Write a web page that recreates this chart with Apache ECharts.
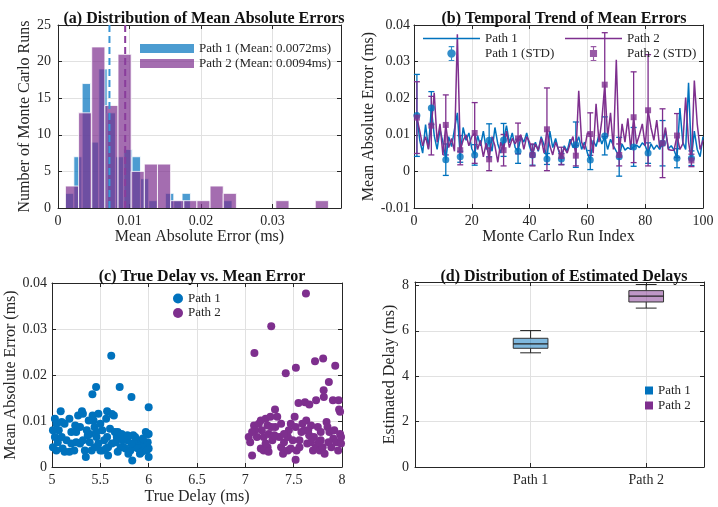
<!DOCTYPE html>
<html>
<head>
<meta charset="utf-8">
<script src="https://cdn.jsdelivr.net/npm/echarts@6/dist/echarts.min.js"></script>
<style>
html,body{margin:0;padding:0;background:#fff;}
#chart{width:718px;height:507px;}
</style>
</head>
<body>
<div id="chart"></div>
<script>
// (a) histogram bins and counts
const edges1 = [0.00105, 0.00222, 0.00338, 0.00455, 0.00571, 0.00688, 0.00804, 0.00921, 0.01037, 0.01154, 0.0127,
  0.01387, 0.01503, 0.0162, 0.01736, 0.01853, 0.01969, 0.02086, 0.02202, 0.02319, 0.02435]
const counts1 = [2, 7, 17, 9, 19, 13, 7, 8, 7, 4, 1, 0, 2, 1, 2, 0, 0, 0, 0, 1]
const edges2 = [0.00104, 0.00288, 0.00472, 0.00656, 0.0084, 0.01024, 0.01208, 0.01392, 0.01576, 0.0176, 0.01944,
  0.02128, 0.02312, 0.02496, 0.0268, 0.02864, 0.03048, 0.03232, 0.03416, 0.036, 0.03784]
const counts2 = [3, 13, 22, 14, 21, 5, 6, 6, 1, 1, 1, 3, 2, 0, 0, 0, 1, 0, 0, 1]
const mean1 = 0.0072
const mean2 = 0.0094

// (b) mean error per monte carlo run (run 1..100)
const runErr1 = [
  0.0153, 0.0085, 0.0050, 0.0128, 0.0062, 0.0173, 0.0098, 0.0060, 0.0115, 0.0080,
  0.0032, 0.0095, 0.0068, 0.0115, 0.0160, 0.0040, 0.0120, 0.0085, 0.0105, 0.0062,
  0.0045, 0.0098, 0.0070, 0.0110, 0.0060, 0.0085, 0.0055, 0.0120, 0.0075, 0.0050,
  0.0086, 0.0125, 0.0078, 0.0105, 0.0065, 0.0055, 0.0095, 0.0080, 0.0105, 0.0068,
  0.0045, 0.0080, 0.0055, 0.0095, 0.0072, 0.0034, 0.0110, 0.0065, 0.0090, 0.0058,
  0.0034, 0.0070, 0.0055, 0.0088, 0.0065, 0.0073, 0.0095, 0.0060, 0.0080, 0.0050,
  0.0031, 0.0085, 0.0068, 0.0100, 0.0075, 0.0097, 0.0060, 0.0088, 0.0070, 0.0055,
  0.0040, 0.0075, 0.0058, 0.0065, 0.0060, 0.0067, 0.0072, 0.0065, 0.0078, 0.0070,
  0.0050, 0.0075, 0.0060, 0.0072, 0.0060, 0.0077, 0.0110, 0.0062, 0.0070, 0.0058,
  0.0036, 0.0173, 0.0080, 0.0060, 0.0242, 0.0036, 0.0110, 0.0060, 0.0040, 0.0095]
const runErr2 = [
  0.0147, 0.0110, 0.0070, 0.0095, 0.0060, 0.0125, 0.0215, 0.0080, 0.0130, 0.0045,
  0.0127, 0.0065, 0.0090, 0.0055, 0.0375, 0.0058, 0.0085, 0.0100, 0.0070, 0.0095,
  0.0105, 0.0060, 0.0085, 0.0040, 0.0078, 0.0033, 0.0095, 0.0070, 0.0025, 0.0080,
  0.0058, 0.0110, 0.0065, 0.0090, 0.0075, 0.0090, 0.0100, 0.0060, 0.0095, 0.0080,
  0.0045, 0.0075, 0.0058, 0.0090, 0.0050, 0.0115, 0.0070, 0.0045, 0.0080, 0.0060,
  0.0042, 0.0065, 0.0050, 0.0075, 0.0095, 0.0043, 0.0220, 0.0080, 0.0060, 0.0105,
  0.0102, 0.0050, 0.0185, 0.0080, 0.0140, 0.0237, 0.0095, 0.0160, 0.0060, 0.0305,
  0.0045, 0.0130, 0.0080, 0.0145, 0.0060, 0.0148, 0.0075, 0.0100, 0.0130, 0.0070,
  0.0167, 0.0120, 0.0085, 0.0140, 0.0065, 0.0077, 0.0120, 0.0060, 0.0058, 0.0058,
  0.0098, 0.0060, 0.0075, 0.0202, 0.0080, 0.0030, 0.0248, 0.0130, 0.0060, 0.0085]
// runs that carry an error bar, and the std of each
const stdRuns = [1, 6, 11, 16, 21, 26, 31, 36, 41, 46, 51, 56, 61, 66, 71, 76, 81, 86, 91, 96]
const std1 = [0.0112, 0.0045, 0.0043, 0.0015, 0.0028, 0.0045, 0.0045, 0.0033, 0.0028, 0.0015,
  0.0015, 0.0062, 0.0026, 0.0052, 0.0053, 0.0053, 0.0028, 0.0062, 0.0026, 0.0020]
const std2 = [0.0098, 0.0080, 0.0082, 0.0040, 0.0083, 0.0031, 0.0043, 0.0042, 0.0030, 0.0113,
  0.0024, 0.0028, 0.0058, 0.0142, 0.0030, 0.0124, 0.0152, 0.0094, 0.0060, 0.0017]

// (c) true delay vs mean error
const scatter1 = [[5.613,0.0242],[5.456,0.0174],[5.418,0.0158],[5.70,0.0174],[5.822,0.0152],[6.0,0.013],
  [5.03,0.0105],[5.09,0.0121],[5.045,0.0094],[5.07,0.008],[5.03,0.0065],[5.06,0.0054],[5.045,0.0036],
  [5.13,0.0033],[5.18,0.0033],[5.18,0.0105],[5.24,0.009],[5.25,0.0076],[5.27,0.0112],[5.31,0.0121],
  [5.32,0.0116],[5.25,0.0054],[5.29,0.0051],[5.34,0.0036],[5.35,0.0022],[5.39,0.0054],[5.39,0.0072],
  [5.43,0.0101],[5.44,0.0087],[5.42,0.0112],[5.48,0.0116],[5.50,0.0094],[5.46,0.0065],[5.44,0.0043],
  [5.50,0.0036],[5.52,0.008],[5.57,0.0121],[5.56,0.0105],[5.57,0.0065],[5.58,0.0043],[5.58,0.0025],
  [5.64,0.0112],[5.65,0.0076],[5.67,0.0065],[5.68,0.0076],[5.72,0.0072],[5.74,0.0043],[5.78,0.0058],
  [5.79,0.0029],[5.83,0.0014],[5.84,0.0069],[5.86,0.0043],[5.88,0.0058],[5.91,0.0029],[5.92,0.0054],
  [5.95,0.0043],[5.97,0.0076],[5.99,0.0072],[6.0,0.0022],[5.99,0.0054],[6.0,0.004],[6.0,0.0072],
  [5.37,0.0069],[5.13,0.0094],[5.15,0.0058],[5.2,0.0051],[5.32,0.0058],[5.38,0.0101],[5.52,0.0036],
  [5.62,0.0051],[5.71,0.0043],[5.76,0.004],[5.81,0.0036],[5.85,0.0051],[5.89,0.004],[5.93,0.0033],
  [5.01,0.0043],[5.1,0.0065],[5.2,0.0076],[5.29,0.0087],[5.36,0.008],[5.41,0.0036],[5.54,0.0058],
  [5.6,0.0083],[5.66,0.0054],[5.73,0.0058],[5.82,0.0051],[5.94,0.0062],[5.01,0.008],[5.11,0.004],
  [5.23,0.0036],[5.46,0.0076],[5.48,0.0051],[5.56,0.004],[5.68,0.0033],[5.78,0.0069],[5.86,0.0065],
  [5.98,0.0036],[5.62,0.0115],[5.1,0.0098]]
const scatter2 = [[7.627,0.0377],[7.268,0.0306],[7.094,0.0248],[7.418,0.0204],[7.523,0.0216],[7.721,0.023],
  [7.805,0.0236],[7.93,0.022],[7.864,0.0185],[7.81,0.0167],[7.55,0.0139],[7.617,0.0141],[7.662,0.0136],
  [7.732,0.0145],[7.812,0.0152],[7.906,0.0145],[7.965,0.0145],[7.97,0.0125],[7.98,0.012],[7.307,0.0125],
  [7.035,0.0065],[7.05,0.0054],[7.07,0.0025],[7.09,0.009],[7.14,0.0094],[7.17,0.008],[7.19,0.0065],
  [7.21,0.0105],[7.23,0.009],[7.24,0.0072],[7.26,0.0109],[7.28,0.0058],[7.16,0.004],[7.23,0.0043],
  [7.31,0.0087],[7.35,0.0065],[7.37,0.0043],[7.39,0.0029],[7.40,0.0054],[7.44,0.0065],[7.45,0.008],
  [7.47,0.0094],[7.51,0.0109],[7.52,0.0087],[7.53,0.0036],[7.56,0.0058],[7.52,0.0016],[7.59,0.0094],
  [7.61,0.008],[7.63,0.0101],[7.64,0.0051],[7.68,0.009],[7.70,0.0036],[7.73,0.0043],[7.75,0.0087],
  [7.77,0.0036],[7.78,0.0058],[7.80,0.0043],[7.82,0.0029],[7.84,0.0098],[7.85,0.0087],[7.87,0.0076],
  [7.91,0.0062],[7.92,0.008],[7.94,0.0054],[7.98,0.0072],[7.99,0.0051],[7.99,0.0065],[7.10,0.008],
  [7.12,0.0065],[7.19,0.0036],[7.27,0.0087],[7.30,0.0069],[7.33,0.0109],[7.44,0.0036],[7.49,0.0058],
  [7.58,0.0076],[7.66,0.0069],[7.71,0.0065],[7.76,0.0054],[7.89,0.0043],[7.96,0.0036],[7.07,0.0076],
  [7.16,0.0101],[7.21,0.0051],[7.37,0.0094],[7.47,0.004],[7.56,0.0043],[7.65,0.008],[7.78,0.0076],
  [7.86,0.0054],[7.24,0.0033],[7.40,0.0072],[7.68,0.0054]]

// (d) box stats: [min, q1, median, q3, max]
const boxNames = ['Path 1', 'Path 2']
const boxStats1 = [5.03, 5.23, 5.42, 5.67, 6.01]
const boxStats2 = [7.0, 7.27, 7.53, 7.77, 8.04]

const c1 = '#0072BD'
const c2 = '#7E2F8E'
const font = 'Liberation Serif'
const ink = '#262626'

let chart
let option = {}

// 坐标轴
function mainAxis(grid, pos, min, max, interval, name, nameGap, extra){
  return Object.assign({
    type:'value', gridIndex:grid, position:pos, min, max, interval,
    name, nameLocation:'middle', nameGap,
    nameTextStyle:{fontFamily:font, fontSize:16, color:ink},
    axisLine:{show:true, onZero:false, lineStyle:{color:ink, width:1}},
    axisTick:{show:true, inside:true, length:4, lineStyle:{color:ink}},
    axisLabel:{fontFamily:font, fontSize:14, color:ink, margin:6},
    splitLine:{show:true, lineStyle:{color:'#e1e1e1', width:1}}
  }, extra || {})
}
function frameAxis(grid, pos, min, max, interval){
  return {
    type:'value', gridIndex:grid, position:pos, min, max, interval,
    axisLine:{show:true, onZero:false, lineStyle:{color:ink, width:1}},
    axisTick:{show:true, inside:true, length:4, lineStyle:{color:ink}},
    axisLabel:{show:false}, splitLine:{show:false}
  }
}

function histItem(fill){
  return function(params, api){
    if (api.value(2) === 0) return null
    const p0 = api.coord([api.value(0), api.value(2)])
    const p1 = api.coord([api.value(1), 0])
    return {type:'group', children:[
      {type:'rect', shape:{x:p0[0], y:p0[1], width:p1[0]-p0[0], height:p1[1]-p0[1]}, style:{fill}},
      {type:'polyline', shape:{points:[[p0[0],p1[1]],[p0[0],p0[1]],[p1[0],p0[1]],[p1[0],p1[1]]]},
        style:{stroke:'#fff', lineWidth:0.8, fill:null}}
    ]}
  }
}

function errItem(color){
  return function(params, api){
    const x = api.value(0), m = api.value(1), s = api.value(2)
    const t = api.coord([x, m + s]), b = api.coord([x, m - s])
    const w = 3
    const style = {stroke:color, lineWidth:1.3}
    return {type:'group', children:[
      {type:'line', shape:{x1:t[0], y1:t[1], x2:b[0], y2:b[1]}, style},
      {type:'line', shape:{x1:t[0]-w, y1:t[1], x2:t[0]+w, y2:t[1]}, style},
      {type:'line', shape:{x1:b[0]-w, y1:b[1], x2:b[0]+w, y2:b[1]}, style}
    ]}
  }
}

function boxItem(fill){
  return function(params, api){
    const x = api.value(0)
    const hw = 0.15, cw = 0.09
    const lo = api.coord([x - hw, api.value(2)]), hi = api.coord([x + hw, api.value(4)])
    const med0 = api.coord([x - hw, api.value(3)]), med1 = api.coord([x + hw, api.value(3)])
    const wMin = api.coord([x, api.value(1)]), wMax = api.coord([x, api.value(5)])
    const capL = api.coord([x - cw, 0])[0], capR = api.coord([x + cw, 0])[0]
    const ls = {stroke:'#222', lineWidth:1}
    return {type:'group', children:[
      {type:'line', shape:{x1:wMin[0], y1:wMin[1], x2:wMin[0], y2:lo[1]}, style:ls},
      {type:'line', shape:{x1:wMax[0], y1:wMax[1], x2:wMax[0], y2:hi[1]}, style:ls},
      {type:'line', shape:{x1:capL, y1:wMin[1], x2:capR, y2:wMin[1]}, style:ls},
      {type:'line', shape:{x1:capL, y1:wMax[1], x2:capR, y2:wMax[1]}, style:ls},
      {type:'rect', shape:{x:lo[0], y:hi[1], width:hi[0]-lo[0], height:lo[1]-hi[1]}, style:{fill, stroke:'#333', lineWidth:1}},
      {type:'line', shape:{x1:med0[0], y1:med0[1], x2:med1[0], y2:med1[1]}, style:{stroke:'#222', lineWidth:1.3}}
    ]}
  }
}

function getOption(){
  const hist1 = counts1.map((c, i) => [edges1[i], edges1[i+1], c])
  const hist2 = counts2.map((c, i) => [edges2[i], edges2[i+1], c])
  const line1 = runErr1.map((v, i) => [i + 1, v])
  const line2 = runErr2.map((v, i) => [i + 1, v])
  const bar1 = stdRuns.map((r, i) => [r, runErr1[r-1], std1[i]])
  const bar2 = stdRuns.map((r, i) => [r, runErr2[r-1], std2[i]])
  // legend glyphs: plain line, and marker with an error bar
  const lineIcon = 'path://M0,0H57V1.5H0Z'
  const errIcon = 'path://M4.4,0H5.6V16H4.4Z M2,0H8V1.2H2Z M2,14.8H8V16H2Z M9.5,8A4.5,4.5 0 1 1 0.5,8A4.5,4.5 0 1 1 9.5,8Z'
  const errIcon2 = 'path://M4.4,0H5.6V16H4.4Z M2,0H8V1.2H2Z M2,14.8H8V16H2Z M1.2,4.2H8.8V11.8H1.2Z'
  const legText = {fontFamily:font, fontSize:13, color:ink}
  const lab = {fontFamily:font, fontSize:14, color:ink}

  option = {
    animation:false,
    backgroundColor:'#fff',
    title:[
      {text:'(a) Distribution of Mean Absolute Errors', left:199, top:6, textAlign:'center'},
      {text:'(b) Temporal Trend of Mean Errors', left:559, top:6, textAlign:'center'},
      {text:'(c) True Delay vs. Mean Error', left:197, top:264, textAlign:'center'},
      {text:'(d) Distribution of Estimated Delays', left:559, top:264, textAlign:'center'}
    ].map(t => Object.assign(t, {textStyle:{fontFamily:font, fontSize:16, fontWeight:'bold', color:'#111'}})),
    grid:[
      {left:58, top:25, width:283, height:183},
      {left:414, top:25, width:289, height:183},
      {left:52, top:283, width:290, height:184},
      {left:415, top:282, width:289, height:185}
    ],
    legend:[
      {left:140, top:42, orient:'vertical', padding:0, itemWidth:54, itemHeight:9, itemGap:2, textStyle:legText,
        data:[{name:'Path 1 (Mean: 0.0072ms)', icon:'rect'}, {name:'Path 2 (Mean: 0.0094ms)', icon:'rect'}]},
      {left:423, top:32, orient:'vertical', padding:0, itemWidth:57, itemHeight:15, itemGap:1, textStyle:legText,
        data:[{name:'Path 1', icon:lineIcon}, {name:'Path 1 (STD)', icon:errIcon}]},
      {left:565, top:32, orient:'vertical', padding:0, itemWidth:57, itemHeight:15, itemGap:1, textStyle:legText,
        data:[{name:'Path 2', icon:lineIcon}, {name:'Path 2 (STD)', icon:errIcon2}]},
      {left:173, top:292, orient:'vertical', padding:0, itemWidth:10, itemHeight:10, itemGap:1.5, textStyle:legText,
        data:[{name:'Path 1 ', icon:'circle'}, {name:'Path 2 ', icon:'circle'}]},
      {left:645, top:384, orient:'vertical', padding:0, itemWidth:8, itemHeight:8, itemGap:2, textStyle:legText,
        data:[{name:'Path 1  ', icon:'rect'}, {name:'Path 2  ', icon:'rect'}]}
    ],
    xAxis:[
      mainAxis(0, 'bottom', 0, 0.0396, 0.01, 'Mean Absolute Error (ms)', 20,
        {axisLabel:Object.assign({margin:6, showMaxLabel:false}, lab)}),
      frameAxis(0, 'top', 0, 0.0396, 0.01),
      mainAxis(1, 'bottom', 0, 100, 20, 'Monte Carlo Run Index', 20),
      frameAxis(1, 'top', 0, 100, 20),
      mainAxis(2, 'bottom', 5, 8, 0.5, 'True Delay (ms)', 22),
      frameAxis(2, 'top', 5, 8, 0.5),
      mainAxis(3, 'bottom', 0, 2.5, 1, '', 20, {
        axisLabel:Object.assign({margin:6, formatter:v => v === 1 ? boxNames[0] : (v === 2 ? boxNames[1] : '')}, lab)
      }),
      frameAxis(3, 'top', 0, 2.5, 1)
    ],
    yAxis:[
      mainAxis(0, 'left', 0, 25, 5, 'Number of Monte Carlo Runs', 23, {axisLabel:Object.assign({margin:7}, lab)}),
      frameAxis(0, 'right', 0, 25, 5),
      mainAxis(1, 'left', -0.01, 0.04, 0.01, 'Mean Absolute Error (ms)', 32, {axisLabel:Object.assign({margin:4}, lab)}),
      frameAxis(1, 'right', -0.01, 0.04, 0.01),
      mainAxis(2, 'left', 0, 0.04, 0.01, 'Mean Absolute Error (ms)', 30, {axisLabel:Object.assign({margin:5}, lab)}),
      frameAxis(2, 'right', 0, 0.04, 0.01),
      mainAxis(3, 'left', 0, 8.15, 2, 'Estimated Delay (ms)', 12, {axisLabel:Object.assign({margin:6, showMaxLabel:false}, lab)}),
      frameAxis(3, 'right', 0, 8.15, 2)
    ],
    series:[
      // (a)
      {type:'custom', name:'Path 1 (Mean: 0.0072ms)', xAxisIndex:0, yAxisIndex:0, data:hist1,
        itemStyle:{color:'rgba(0,114,189,0.7)'}, renderItem:histItem('rgba(0,114,189,0.7)'), encode:{x:[0,1], y:2}},
      {type:'custom', name:'Path 2 (Mean: 0.0094ms)', xAxisIndex:0, yAxisIndex:0, data:hist2,
        itemStyle:{color:'rgba(126,47,142,0.7)'}, renderItem:histItem('rgba(126,47,142,0.7)'), encode:{x:[0,1], y:2}},
      {type:'line', xAxisIndex:0, yAxisIndex:0, symbol:'none', z:5, data:[[mean1,0],[mean1,25]],
        lineStyle:{color:'#3a96d6', width:2, type:[7,4]}},
      {type:'line', xAxisIndex:0, yAxisIndex:0, symbol:'none', z:5, data:[[mean2,0],[mean2,25]],
        lineStyle:{color:'#8a3d9c', width:2, type:[7,4]}},
      // (b)
      {type:'line', name:'Path 1', xAxisIndex:2, yAxisIndex:2, data:line1, symbol:'none',
        itemStyle:{color:c1}, lineStyle:{color:c1, width:1.5}},
      {type:'line', name:'Path 2', xAxisIndex:2, yAxisIndex:2, data:line2, symbol:'none',
        itemStyle:{color:c2}, lineStyle:{color:c2, width:1.5}},
      {type:'scatter', name:'Path 1 (STD)', xAxisIndex:2, yAxisIndex:2, data:bar1, symbol:'circle', symbolSize:7,
        itemStyle:{color:c1}, z:4},
      {type:'custom', name:'Path 1 (STD)', xAxisIndex:2, yAxisIndex:2, data:bar1, renderItem:errItem(c1),
        itemStyle:{color:c1}, z:3},
      {type:'scatter', name:'Path 2 (STD)', xAxisIndex:2, yAxisIndex:2, data:bar2, symbol:'rect', symbolSize:6,
        itemStyle:{color:c2}, z:4},
      {type:'custom', name:'Path 2 (STD)', xAxisIndex:2, yAxisIndex:2, data:bar2, renderItem:errItem(c2),
        itemStyle:{color:c2}, z:3},
      // (c)
      {type:'scatter', name:'Path 1 ', xAxisIndex:4, yAxisIndex:4, data:scatter1, symbolSize:8, itemStyle:{color:c1, opacity:1}},
      {type:'scatter', name:'Path 2 ', xAxisIndex:4, yAxisIndex:4, data:scatter2, symbolSize:8, itemStyle:{color:c2, opacity:1}},
      // (d)
      {type:'custom', name:'Path 1  ', xAxisIndex:6, yAxisIndex:6, data:[[1].concat(boxStats1)],
        itemStyle:{color:c1}, renderItem:boxItem('rgba(0,114,189,0.5)')},
      {type:'custom', name:'Path 2  ', xAxisIndex:6, yAxisIndex:6, data:[[2].concat(boxStats2)],
        itemStyle:{color:c2}, renderItem:boxItem('rgba(126,47,142,0.5)')}
    ]
  }
}

function initChart(){
  chart = echarts.init(document.getElementById('chart'))
  getOption()
  chart.setOption(option)
}

initChart()
</script>
</body>
</html>
